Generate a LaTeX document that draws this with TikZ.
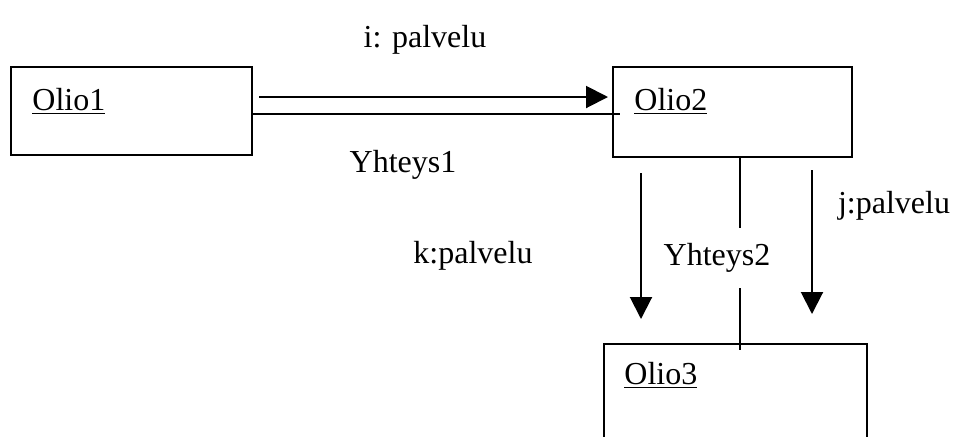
\documentclass[tikz,border=0pt]{standalone}
\usepackage{fontspec}
\setmainfont{Liberation Serif}
\usetikzlibrary{arrows.meta}

\tikzset{
    olio/.style={draw, line width=1pt, inner sep=0pt},
    oname/.style={anchor=base west, inner sep=0pt},
    msg/.style={line width=1pt, -{Triangle[length=11pt,width=11pt]}},
    link/.style={line width=1pt},
}

\begin{document}
\begin{tikzpicture}[x=0.5pt,y=-0.5pt,font=\fontsize{16}{19}\selectfont]
    \clip (0,0) rectangle (954,436);
    % objects
    \node[olio, minimum width=120.5pt, minimum height=44pt] (olio1) at (131.5,111) {};
    \node[olio, minimum width=119.5pt, minimum height=45pt] (olio2) at (732.5,112) {};
    \node[olio, minimum width=131.5pt, minimum height=70pt] (olio3) at (735.5,414) {};
    \node[oname] (o1name) at (32,110) {\underline{Olio1}};
    \node[oname] (o2name) at (634,110) {\underline{Olio2}};
    \node[oname] (o3name) at (624,384) {\underline{Olio3}};
    % links
    \coordinate (y1end) at (620,114);
    \draw[link] (olio1.east |- y1end) -- (y1end);
    \coordinate (y2a) at (740,228);
    \coordinate (y2b) at (740,288);
    \coordinate (y2end) at (740,350);
    \draw[link] (olio2.south -| y2a) -- (y2a);
    \draw[link] (y2b) -- (y2end);
    \node (yht1) at (403,165) {Yhteys1};
    \node (yht2) at (717,258) {Yhteys2};
    % messages
    \coordinate (ia) at (259,97);
    \coordinate (ib) at (608,97);
    \coordinate (ka) at (641,173);
    \coordinate (kb) at (641,319);
    \coordinate (ja) at (812,170);
    \coordinate (jb) at (812,314);
    \draw[msg] (ia) -- (ib);
    \draw[msg] (ka) -- (kb);
    \draw[msg] (ja) -- (jb);
    \node (imsg) at (425,40) {i: palvelu};
    \node (kmsg) at (473,256) {k:palvelu};
    \node (jmsg) at (894,206) {j:palvelu};
\end{tikzpicture}
\end{document}
